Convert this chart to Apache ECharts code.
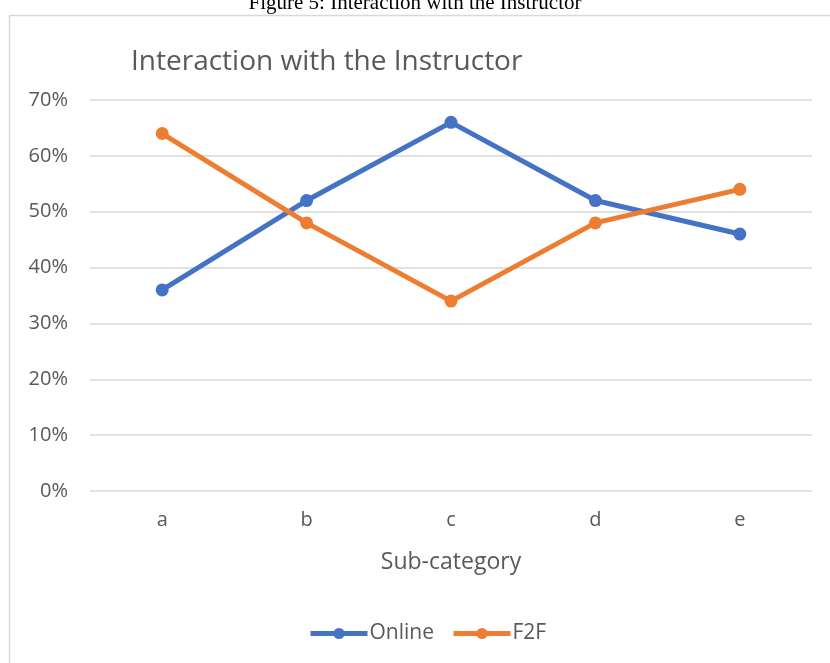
<!DOCTYPE html>
<html>
<head>
<meta charset="utf-8">
<script src="https://cdn.jsdelivr.net/npm/echarts@6/dist/echarts.min.js"></script>
<style>
  html, body { margin: 0; padding: 0; background: #fff; }
  #chart { width: 830px; height: 663px; }
</style>
</head>
<body>
<div id="chart"></div>
<script>
const categories = ['a', 'b', 'c', 'd', 'e'];
const onlineValues = [36, 52, 66, 52, 46];
const f2fValues = [64, 48, 34, 48, 54];

const chart = echarts.init(document.getElementById('chart'));
const font = 'Open Sans';

chart.setOption({
    animation: false,
    graphic: [
        {
            type: 'text',
            left: 'center',
            top: -7,
            style: { text: 'Figure 5: Interaction with the Instructor', font: '21px "Liberation Serif"', fill: '#000' }
        },
        {
            type: 'rect',
            shape: { x: 9.5, y: 15.5, width: 840, height: 680 },
            style: { fill: 'none', stroke: '#d9d9d9', lineWidth: 1.5 },
            z: -1
        }
    ],
    title: {
        text: 'Interaction with the Instructor',
        left: 126,
        top: 43,
        textStyle: { fontFamily: font, fontSize: 28, fontWeight: 'normal', color: '#595959' }
    },
    legend: {
        bottom: 14,
        left: 303,
        itemWidth: 57,
        itemHeight: 14,
        itemGap: 17,
        lineStyle: { width: 5 },
        textStyle: { fontFamily: font, fontSize: 21, color: '#595959', padding: [0, 0, 0, -3] },
        data: ['Online', 'F2F']
    },
    grid: { left: 90, right: 18, top: 100, bottom: 172 },
    xAxis: {
        type: 'category',
        data: categories,
        boundaryGap: true,
        axisLine: { show: false },
        axisTick: { show: false },
        axisLabel: { fontFamily: font, fontSize: 20, color: '#595959', margin: 19 },
        name: 'Sub-category',
        nameLocation: 'middle',
        nameGap: 60,
        nameTextStyle: { fontFamily: font, fontSize: 23, color: '#595959' }
    },
    yAxis: {
        type: 'value',
        min: 0,
        max: 70,
        interval: 10,
        axisLine: { show: false },
        axisTick: { show: false },
        splitLine: { lineStyle: { color: '#d9d9d9', width: 1.5 } },
        axisLabel: { fontFamily: font, fontSize: 20, color: '#595959', margin: 22, formatter: '{value}%' }
    },
    series: [
        {
            name: 'Online',
            type: 'line',
            data: onlineValues,
            symbol: 'circle',
            symbolSize: 13,
            lineStyle: { color: '#4472C4', width: 5 },
            itemStyle: { color: '#4472C4' }
        },
        {
            name: 'F2F',
            type: 'line',
            data: f2fValues,
            symbol: 'circle',
            symbolSize: 13,
            lineStyle: { color: '#ED7D31', width: 5 },
            itemStyle: { color: '#ED7D31' }
        }
    ]
});
</script>
</body>
</html>
